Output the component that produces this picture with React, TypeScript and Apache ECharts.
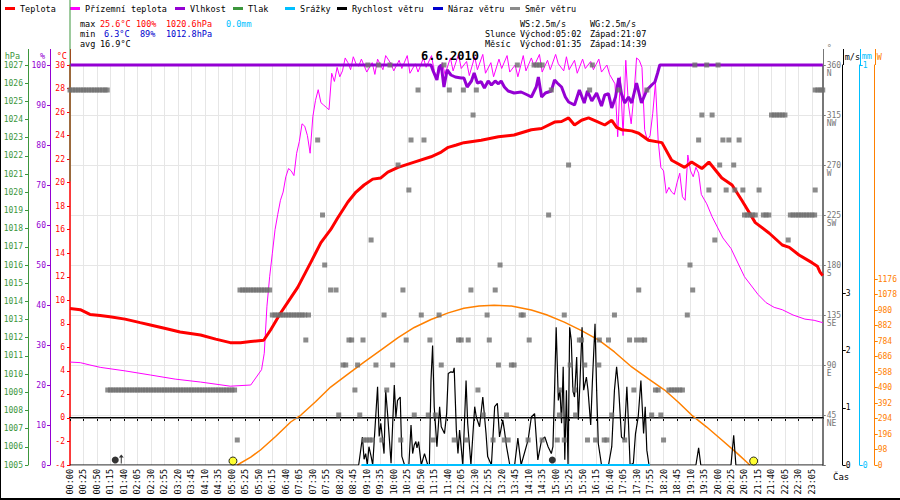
import React, { useEffect, useRef } from "react";
import * as echarts from "echarts";

const FONT = "DejaVu Sans Mono";
const RED = "#ff0000";
const MAGENTA = "#ff00ff";
const PURPLE = "#9400d3";
const GREEN = "#3c963c";
const CYAN = "#00bfff";
const BLACK = "#000000";
const BLUE = "#0000cd";
const GRAY = "#6e6e6e";
const ORANGE = "#ff8000";

// x-axis categories: 5-minute samples (the logger skipped 22:45 and 22:50)
const timeLabels: string[] = [];
for (let m = 0; m <= 1360; m += 5) {
  timeLabels.push(String(Math.floor(m / 60)).padStart(2, "0") + ":" + String(m % 60).padStart(2, "0"));
}
timeLabels.push("22:55", "23:00", "23:05", "23:10", "23:15", "23:20", "23:25");

// [minute of day, °C]
const temperature = [
  [0, 9.3], [19, 9.2], [37, 8.8], [56, 8.7], [74, 8.6], [102, 8.4], [130, 8.1], [149, 7.9], [177, 7.6], [204, 7.3],
  [242, 7.05], [270, 6.7], [297, 6.4], [316, 6.4], [335, 6.5], [359, 6.6], [372, 7.5], [390, 8.9], [409, 10.2], [422, 11.1],
  [446, 13.2], [465, 14.9], [483, 16.0], [496, 17.0], [515, 18.35], [530, 19.2], [545, 19.8], [561, 20.3], [576, 20.4], [589, 20.9],
  [608, 21.3], [638, 21.75], [669, 22.2], [688, 22.6], [701, 23.0], [716, 23.2], [730, 23.4], [762, 23.6], [794, 23.9], [823, 24.05],
  [855, 24.5], [874, 24.6], [898, 25.15], [911, 25.2], [924, 25.5], [935, 24.9], [948, 25.3], [961, 25.5], [976, 25.2], [991, 24.9],
  [1004, 25.3], [1013, 24.7], [1022, 24.5], [1041, 24.4], [1054, 24.2], [1072, 23.6], [1097, 23.4], [1115, 21.9], [1139, 21.3], [1152, 21.75],
  [1171, 21.2], [1184, 21.75], [1208, 20.4], [1227, 19.8], [1245, 18.5], [1270, 16.6], [1296, 15.7], [1320, 14.7], [1333, 14.5], [1351, 13.85],
  [1375, 13.2], [1385, 12.9], [1390, 12.4], [1395, 12.1],
];

// [minute, °C] ground temperature
const groundTemp = [
  [0, 4.75], [19, 4.7], [37, 4.5], [56, 4.3], [102, 4.0], [149, 3.65], [195, 3.3], [242, 3.05], [297, 2.7], [335, 2.8],
  [355, 4.1], [360, 5.5], [365, 9.5], [370, 12.0], [375, 14.0], [380, 16.0], [385, 17.3], [390, 18.5], [395, 19.2], [400, 20.5],
  [405, 21.2], [410, 21.0], [415, 20.6], [420, 22.5], [425, 23.5], [430, 25.0], [435, 24.8], [440, 24.0], [445, 22.5], [450, 25.6],
  [455, 27.0], [460, 27.9], [465, 26.8], [470, 26.6], [475, 26.4], [480, 26.2], [485, 29.3], [490, 28.6], [495, 29.8], [500, 29.0],
  [505, 29.5], [510, 30.6], [515, 30.2], [520, 29.6], [525, 30.7], [530, 30.1], [535, 29.9], [540, 30.5], [550, 29.4], [560, 30.2],
  [565, 29.2], [570, 30.5], [580, 29.6], [585, 30.8], [595, 30.1], [600, 29.5], [610, 30.4], [615, 29.7], [625, 30.8], [630, 29.3],
  [640, 30.1], [645, 29.4], [655, 30.6], [660, 29.8], [670, 30.8], [675, 29.5], [680, 28.8], [690, 30.2], [695, 29.2], [705, 30.6],
  [710, 29.5], [720, 30.9], [725, 29.7], [735, 30.3], [740, 29.1], [750, 30.7], [755, 29.6], [765, 30.9], [770, 29.3], [780, 30.2],
  [785, 29.0], [795, 30.5], [800, 29.7], [810, 30.8], [815, 29.4], [825, 30.0], [830, 29.0], [840, 30.8], [845, 29.5], [855, 30.6],
  [860, 29.9], [870, 30.9], [875, 29.4], [885, 30.4], [890, 29.6], [900, 30.9], [905, 30.1], [915, 29.5], [920, 30.7], [925, 29.6],
  [935, 30.4], [940, 29.3], [950, 30.5], [955, 29.7], [965, 30.3], [970, 29.6], [980, 30.5], [985, 29.4], [995, 30.0], [1000, 29.2],
  [1010, 28.4], [1015, 23.9], [1020, 29.0], [1025, 24.0], [1030, 30.4], [1035, 26.6], [1040, 25.0], [1045, 27.4], [1050, 30.6], [1055, 30.4],
  [1060, 29.8], [1065, 24.5], [1070, 23.6], [1075, 24.0], [1080, 25.9], [1085, 28.5], [1090, 23.6], [1095, 21.3], [1100, 21.0], [1105, 19.1],
  [1110, 19.6], [1115, 19.2], [1120, 19.0], [1125, 20.0], [1130, 20.8], [1135, 18.8], [1140, 18.5], [1145, 22.35], [1150, 21.0], [1155, 20.5],
  [1160, 21.3], [1165, 20.8], [1170, 19.0], [1180, 18.2], [1190, 17.1], [1210, 15.3], [1225, 14.4], [1250, 12.0], [1275, 10.5], [1290, 9.8],
  [1305, 9.4], [1320, 9.2], [1340, 8.75], [1362, 8.4], [1379, 8.3], [1395, 8.1],
];

// [minute, %]
const humidity = [
  [0, 100], [669, 100], [673, 98.5], [680, 96.25], [684, 99.5], [688, 100], [693, 94.5], [699, 98.8], [706, 97.5], [714, 97],
  [725, 96.75], [730, 96.75], [736, 94.5], [744, 96], [749, 98], [755, 95.5], [762, 95.8], [768, 94.25], [775, 96], [781, 95],
  [788, 96], [794, 95.3], [799, 96], [805, 94.5], [812, 93.5], [823, 93], [836, 93.25], [848, 92.5], [855, 92], [864, 94.5],
  [868, 97], [874, 92], [881, 93], [892, 93.5], [898, 96.25], [903, 95.5], [911, 94.5], [918, 92], [924, 90.75], [935, 90],
  [944, 93.75], [953, 90.5], [959, 93.5], [967, 91], [976, 93], [985, 89.75], [991, 92.5], [998, 92.8], [1004, 89.25], [1011, 92],
  [1017, 96.75], [1022, 92.8], [1028, 90.5], [1035, 92], [1041, 90.5], [1050, 95.5], [1059, 90.5], [1069, 93.75], [1078, 95], [1084, 95.75],
  [1089, 98], [1093, 100], [1395, 100],
];

// [minute, hPa]
const pressure = [[0, 1020.6], [0, 1030.6]];

// [minute, mm]
const rain = [[540, 0], [1075, 0]];

// [minute, m/s]
const windSpeed = [
  [0, 0], [535, 0], [542, 0.49], [545, 0.1], [548, 0.2], [551, 0], [554, 0.32], [558, 0.15], [561, 0], [570, 1.37],
  [573, 0.5], [576, 0.73], [582, 0.2], [585, 1.31], [589, 0.84], [595, 0.03], [601, 1.4], [604, 0.84], [607, 1.13], [612, 1.19],
  [615, 0.15], [620, 0], [628, 0], [632, 0.7], [635, 0.2], [638, 0.35], [641, 0.41], [643, 0.3], [646, 0.41], [651, 0],
  [657, 0.2], [663, 0], [666, 0], [669, 1.48], [672, 2.09], [675, 1.02], [680, 0.32], [685, 1.02], [688, 0.67], [694, 0.55],
  [698, 0.9], [701, 1.6], [706, 1.63], [710, 1.62], [712, 1.7], [716, 0.61], [719, 0.2], [722, 0.61], [728, 0], [731, 0.73],
  [734, 1.48], [737, 0.73], [743, 0], [750, 1.02], [753, 0.84], [759, 0.67], [765, 1.19], [771, 0.55], [774, 0.15], [781, 0],
  [787, 1.02], [792, 1.08], [796, 0.49], [802, 0.79], [805, 0.61], [809, 0.32], [815, 0], [824, 0], [830, 0.47], [836, 0],
  [849, 0.44], [855, 0.84], [861, 0.9], [864, 0.49], [867, 0.09], [874, 0.44], [880, 0.49], [886, 0.32], [892, 0.2], [895, 0.32],
  [898, 1.31], [901, 2.41], [905, 1.13], [908, 1.31], [911, 0.73], [914, 1.72], [917, 0.09], [920, 1.31], [923, 0], [926, 2.41],
  [929, 2.18], [932, 1.31], [935, 1.19], [939, 1.89], [942, 0.79], [945, 1.43], [949, 2.41], [952, 1.31], [957, 1.54], [960, 1.31],
  [965, 0.7], [968, 1.43], [973, 2.47], [976, 1.31], [979, 0.38], [985, 0], [998, 0], [1004, 0.32], [1009, 1.31], [1013, 1.72],
  [1017, 1.31], [1022, 0.49], [1027, 0.44], [1032, 1.37], [1035, 0.73], [1038, 0], [1044, 0.03], [1048, 0.55], [1053, 0.84], [1058, 1.48],
  [1063, 0.55], [1066, 1.02], [1069, 0.26], [1073, 0], [1160, 0], [1165, 0.3], [1169, 0], [1225, 0], [1230, 0.52], [1234, 0],
  [1395, 0],
];

// [minute, W/m²]
const solar = [
  [310, 0], [335, 50], [353, 95], [381, 180], [409, 272], [428, 316], [455, 400], [483, 493], [515, 575], [545, 651],
  [576, 727], [608, 805], [638, 870], [669, 920], [701, 962], [730, 992], [758, 1005], [786, 1011], [818, 1005], [855, 980],
  [883, 950], [916, 904], [948, 850], [980, 790], [1009, 715], [1041, 620], [1072, 545], [1102, 474], [1128, 395], [1152, 316],
  [1180, 240], [1208, 158], [1236, 75], [1260, 0],
];

// wind direction: levels (°) and the minutes at which each was recorded
const windDirDeg = [337.5, 67.5, 22.5, 157.5, 135, 112.5, 180, 202.5, 225, 247.5, 270, 292.5, 315, 360, 90, 45];
const windDirMin = [
  [0, 5, 10, 15, 20, 25, 30, 35, 40, 45, 50, 55, 60, 65, 69, 645, 703, 729, 753, 892, 963, 1017, 1069, 1381, 1386, 1391, 1395],
  [70, 75, 80, 85, 90, 95, 100, 105, 110, 115, 120, 125, 130, 135, 140, 145, 150, 155, 160, 165, 170, 175, 180, 185, 190, 195,
    200, 205, 210, 215, 220, 225, 230, 235, 240, 245, 250, 255, 260, 265, 270, 275, 280, 285, 290, 295, 300, 305,
    528, 587, 756, 907, 935, 1045, 1085, 1090, 1110, 1115, 1120, 1125, 1130, 1135],
  [310, 545, 550, 555, 560, 578, 613, 673, 712, 734, 784, 805, 812, 849, 875, 903, 916, 959, 974, 990, 995, 1028, 1100],
  [315, 320, 325, 330, 335, 340, 345, 350, 355, 360, 365, 370, 483, 493, 617, 743, 788, 1054, 1154],
  [375, 380, 385, 390, 395, 400, 405, 410, 415, 420, 425, 430, 435, 442, 582, 651, 684, 773, 836, 840, 916, 1009, 1144],
  [437, 517, 522, 543, 623, 667, 720, 725, 738, 777, 851, 944, 948, 981, 998, 1037, 1050, 1059, 1065],
  [472, 797, 1149],
  [558, 1195, 1331],
  [468, 887, 1250, 1255, 1260, 1265, 1270, 1285, 1290, 1295, 1335, 1340, 1345, 1350, 1355, 1360, 1365, 1370, 1375, 1380],
  [628, 1184, 1216, 1232, 1247, 1277, 1381],
  [608, 924, 1204, 1230],
  [459, 632, 656, 1165, 1210, 1221, 1240],
  [747, 1171, 1190, 1300, 1305, 1310, 1315, 1320, 1325],
  [552, 572, 593, 693, 829, 860, 865, 870, 875, 968, 1158, 1180, 1201],
  [506, 511, 533, 567, 598, 688, 794, 818, 823, 927, 954, 980],
  [498, 537, 638, 664, 677, 766, 809, 907, 937, 1004, 1078, 1095],
];

// sun and moon events (minute of day)
const sunEvents = [302, 1267]; // 05:02, 21:07
const moonRise = 95; // 01:35
const moonSet = 879; // 14:39

// axis tick values
const dirTicks = [45, 90, 135, 180, 225, 270, 315, 360];
const dirNames = ["NE", "E", "SE", "S", "SW", "W", "NW", "N"];
const windTicks = [0, 1, 2, 3];
const solarTicks = [0, 98, 196, 294, 392, 490, 588, 686, 784, 882, 980, 1078, 1176];

// legend
const legendNames = ["Teplota", "Přízemní teplota", "Vlhkost", "Tlak", "Srážky", "Rychlost větru", "Náraz větru", "Směr větru"];
const legendLeft = [5, 70, 175, 233, 285, 337, 433, 510];

// summary texts
const infoTexts = [
  { t: "max", x: 80, y: 24, c: BLACK }, { t: "25.6°C", x: 100, y: 24, c: RED }, { t: "100%", x: 136, y: 24, c: RED },
  { t: "1020.6hPa", x: 166, y: 24, c: RED }, { t: "0.0mm", x: 226, y: 24, c: CYAN },
  { t: "min", x: 80, y: 34, c: BLACK }, { t: "6.3°C", x: 104, y: 34, c: BLUE }, { t: "89%", x: 140, y: 34, c: BLUE },
  { t: "1012.8hPa", x: 166, y: 34, c: BLUE },
  { t: "avg", x: 80, y: 44, c: BLACK }, { t: "16.9°C", x: 100, y: 44, c: BLACK },
  { t: "WS:2.5m/s", x: 520, y: 24, c: BLACK }, { t: "WG:2.5m/s", x: 590, y: 24, c: BLACK },
  { t: "Slunce", x: 485, y: 34, c: BLACK }, { t: "Východ:05:02", x: 520, y: 34, c: BLACK }, { t: "Západ:21:07", x: 590, y: 34, c: BLACK },
  { t: "Měsíc", x: 485, y: 44, c: BLACK }, { t: "Východ:01:35", x: 520, y: 44, c: BLACK }, { t: "Západ:14:39", x: 590, y: 44, c: BLACK },
];
const timeAxisName = "Čas";

const GL = 70, GR = 77, GT = 65, GB = 35, W = 900, H = 500;

function yAxis(o: any) {
  const c = o.color;
  return {
    type: "value",
    position: o.position,
    offset: o.offset,
    min: o.min,
    max: o.max,
    interval: o.interval,
    name: o.name,
    nameLocation: "end",
    nameGap: 4,
    nameTextStyle: {
      color: c, fontFamily: FONT, fontSize: 8.5, verticalAlign: "bottom",
      align: o.position === "left" ? "right" : "left",
      padding: o.position === "left" ? [0, o.namePad, 0, 0] : [0, 0, 0, o.namePad],
    },
    axisLine: { show: true, onZero: false, lineStyle: { color: c, width: o.lineWidth || 1 } },
    axisTick: { show: true, length: 3, lineStyle: { color: c }, ...(o.ticks ? { customValues: o.ticks } : {}) },
    axisLabel: {
      color: c, fontFamily: FONT, fontSize: 8, margin: o.margin,
      ...(o.ticks ? { customValues: o.ticks } : {}),
      formatter: o.formatter || ((v: number) => String(v)),
      lineHeight: 8.5,
    },
    splitLine: o.split ? { show: true, lineStyle: { color: "#e6e6e6", width: 1 } } : { show: false },
  };
}

function buildOption() {
  const dirData: number[][] = [];
  windDirDeg.forEach((d, i) => windDirMin[i].forEach((m) => dirData.push([m, d])));

  const graphics: any[] = [];
  // axis lines reaching up to the unit names
  const ext = [
    { x: GL - 42, c: GREEN }, { x: GL - 20, c: PURPLE }, { x: GL, c: RED },
    { x: W - GR, c: "#777777" }, { x: W - GR + 20, c: BLACK }, { x: W - GR + 37, c: CYAN }, { x: W - GR + 52, c: ORANGE },
  ];
  ext.forEach((e) =>
    graphics.push({ type: "line", silent: true, shape: { x1: e.x + 0.5, y1: GT - 16, x2: e.x + 0.5, y2: GT }, style: { stroke: e.c, lineWidth: 1 } })
  );
  // frame
  graphics.push({ type: "line", silent: true, shape: { x1: 0.5, y1: 0, x2: 0.5, y2: H }, style: { stroke: BLACK, lineWidth: 1 } });
  graphics.push({ type: "line", silent: true, shape: { x1: 0, y1: H - 1, x2: W, y2: H - 1 }, style: { stroke: BLACK, lineWidth: 2 } });
  infoTexts.forEach((t) =>
    graphics.push({
      type: "text", silent: true, x: t.x, y: t.y,
      style: { text: t.t, fill: t.c, fontFamily: FONT, fontSize: 8.5, verticalAlign: "middle", align: "left" },
    })
  );
  graphics.push({
    type: "text", silent: true, x: W - GR + 10, y: H - GB + 12,
    style: { text: timeAxisName, fill: BLACK, fontFamily: FONT, fontSize: 9, verticalAlign: "middle", align: "left" },
  });

  return {
    animation: false,
    backgroundColor: "#ffffff",
    textStyle: { fontFamily: FONT },
    title: {
      text: "6.6.2010", left: "center", top: 50, padding: 0,
      textStyle: { fontFamily: FONT, fontWeight: "bold", fontSize: 12, color: BLACK },
    },
    legend: legendNames.map((n, i) => ({
      data: [n], left: legendLeft[i], top: 4, padding: 0, icon: "rect", itemWidth: 10, itemHeight: 3,
      selectedMode: false, textStyle: { fontFamily: FONT, fontSize: 8.5, color: BLACK },
    })),
    grid: { left: GL, right: GR, top: GT, bottom: GB, containLabel: false },
    xAxis: [
      {
        type: "category", data: timeLabels, boundaryGap: false,
        axisLine: { show: true, lineStyle: { color: BLACK, width: 2 } },
        axisTick: { show: true, interval: 4, length: 3, lineStyle: { color: BLACK } },
        axisLabel: { interval: 4, rotate: 90, fontFamily: FONT, fontSize: 8.5, color: BLACK, margin: 4 },
        splitLine: { show: true, interval: 4, lineStyle: { color: "#e6e6e6", width: 1 } },
      },
      { type: "value", min: 0, max: 1395, show: false },
    ],
    yAxis: [
      yAxis({ name: "°C", position: "left", offset: 0, min: -4, max: 30, interval: 2, color: RED, margin: 5, namePad: 3, lineWidth: 1.5 }),
      yAxis({ name: "%", position: "left", offset: 20, min: 0, max: 100, interval: 10, color: PURPLE, margin: 4, namePad: 5 }),
      yAxis({ name: "hPa", position: "left", offset: 42, min: 1005, max: 1027, interval: 1, color: GREEN, margin: 5, namePad: 8 }),
      yAxis({
        name: "°", position: "right", offset: 0, min: 0, max: 360, interval: 45, color: "#777777", margin: 4, namePad: 4,
        split: true, lineWidth: 2,
        formatter: (v: number) => {
          const i = dirTicks.indexOf(v);
          return i < 0 ? "" : " \n" + v + "\n" + dirNames[i];
        },
      }),
      yAxis({ name: "m/s", position: "right", offset: 20, min: 0, max: 7, interval: 1, color: BLACK, margin: 3, namePad: 2, ticks: windTicks }),
      yAxis({ name: "mm", position: "right", offset: 37, min: 0, max: 1, interval: 1, color: CYAN, margin: 3, namePad: 2 }),
      yAxis({
        name: "W", position: "right", offset: 52, min: 0, max: 2530, interval: 98, color: ORANGE, margin: 3, namePad: 2,
        ticks: solarTicks, formatter: (v: number) => (v <= 1176 ? String(v) : ""),
      }),
    ],
    series: [
      {
        name: "Sluneční záření", type: "line", xAxisIndex: 1, yAxisIndex: 6, data: solar, showSymbol: false, symbol: "none",
        lineStyle: { color: ORANGE, width: 1.5 }, itemStyle: { color: ORANGE }, z: 2,
      },
      {
        name: "Přízemní teplota", type: "line", xAxisIndex: 1, yAxisIndex: 0, data: groundTemp, symbol: "none", clip: false,
        lineStyle: { color: MAGENTA, width: 1 }, itemStyle: { color: MAGENTA }, z: 3,
      },
      {
        name: "Vlhkost", type: "line", xAxisIndex: 1, yAxisIndex: 1, data: humidity, symbol: "none", clip: false,
        lineStyle: { color: PURPLE, width: 3 }, itemStyle: { color: PURPLE }, z: 4,
      },
      {
        name: "Teplota", type: "line", xAxisIndex: 1, yAxisIndex: 0, data: temperature, symbol: "none",
        lineStyle: { color: RED, width: 3 }, itemStyle: { color: RED }, z: 5,
        markLine: {
          silent: true, symbol: ["none", "none"], label: { show: false },
          lineStyle: { color: "#8a8a8a", type: "solid", width: 1 }, data: [{ yAxis: 0 }],
        },
      },
      {
        name: "Tlak", type: "line", xAxisIndex: 1, yAxisIndex: 2, data: pressure, symbol: "none", clip: false,
        lineStyle: { color: GREEN, width: 1 }, itemStyle: { color: GREEN }, z: 5,
      },
      {
        name: "Rychlost větru", type: "line", xAxisIndex: 1, yAxisIndex: 4, data: windSpeed, symbol: "none",
        lineStyle: { color: BLACK, width: 1.2 }, itemStyle: { color: BLACK }, z: 6,
      },
      {
        name: "Srážky", type: "line", xAxisIndex: 1, yAxisIndex: 5, data: rain, symbol: "none", clip: false,
        lineStyle: { color: CYAN, width: 2 }, itemStyle: { color: CYAN }, z: 7,
      },
      {
        name: "Náraz větru", type: "line", xAxisIndex: 1, yAxisIndex: 4, data: [], symbol: "none",
        lineStyle: { color: BLUE, width: 1 }, itemStyle: { color: BLUE },
      },
      {
        name: "Směr větru", type: "scatter", xAxisIndex: 1, yAxisIndex: 3, data: dirData, symbol: "rect", symbolSize: [5, 5],
        itemStyle: { color: GRAY }, z: 8,
      },
      {
        name: "Slunce", type: "scatter", xAxisIndex: 1, yAxisIndex: 4,
        data: sunEvents.map((m) => [m, 0]), symbol: "circle", symbolSize: 8, symbolOffset: [0, -4],
        itemStyle: { color: "#ffff00", borderColor: BLACK, borderWidth: 1 }, z: 9,
      },
      {
        name: "Měsíc", type: "scatter", xAxisIndex: 1, yAxisIndex: 4,
        data: [
          { value: [moonRise, 0], symbolOffset: [-6, -5] },
          { value: [moonSet, 0], symbolOffset: [8, -5] },
        ],
        symbol: "circle", symbolSize: 7, itemStyle: { color: BLACK }, z: 9,
      },
      {
        name: "Východ Měsíce", type: "scatter", xAxisIndex: 1, yAxisIndex: 4,
        data: [[moonRise, 0]],
        symbol: "path://M3,0 L6,4 L3.6,4 L3.6,12 L2.4,12 L2.4,4 L0,4 Z", symbolSize: [5, 9], symbolOffset: [0, -6],
        itemStyle: { color: BLACK }, z: 9,
      },
    ],
    graphic: graphics,
  };
}

export default function App() {
  const ref = useRef<HTMLDivElement>(null);
  useEffect(() => {
    if (!ref.current) return;
    const chart = echarts.init(ref.current, null, { renderer: "svg" });
    chart.setOption(buildOption() as any);
    return () => chart.dispose();
  }, []);
  return (
    <div
      ref={ref}
      style={{ position: "fixed", left: 0, top: 0, width: W, height: H, background: "#ffffff" }}
    />
  );
}
